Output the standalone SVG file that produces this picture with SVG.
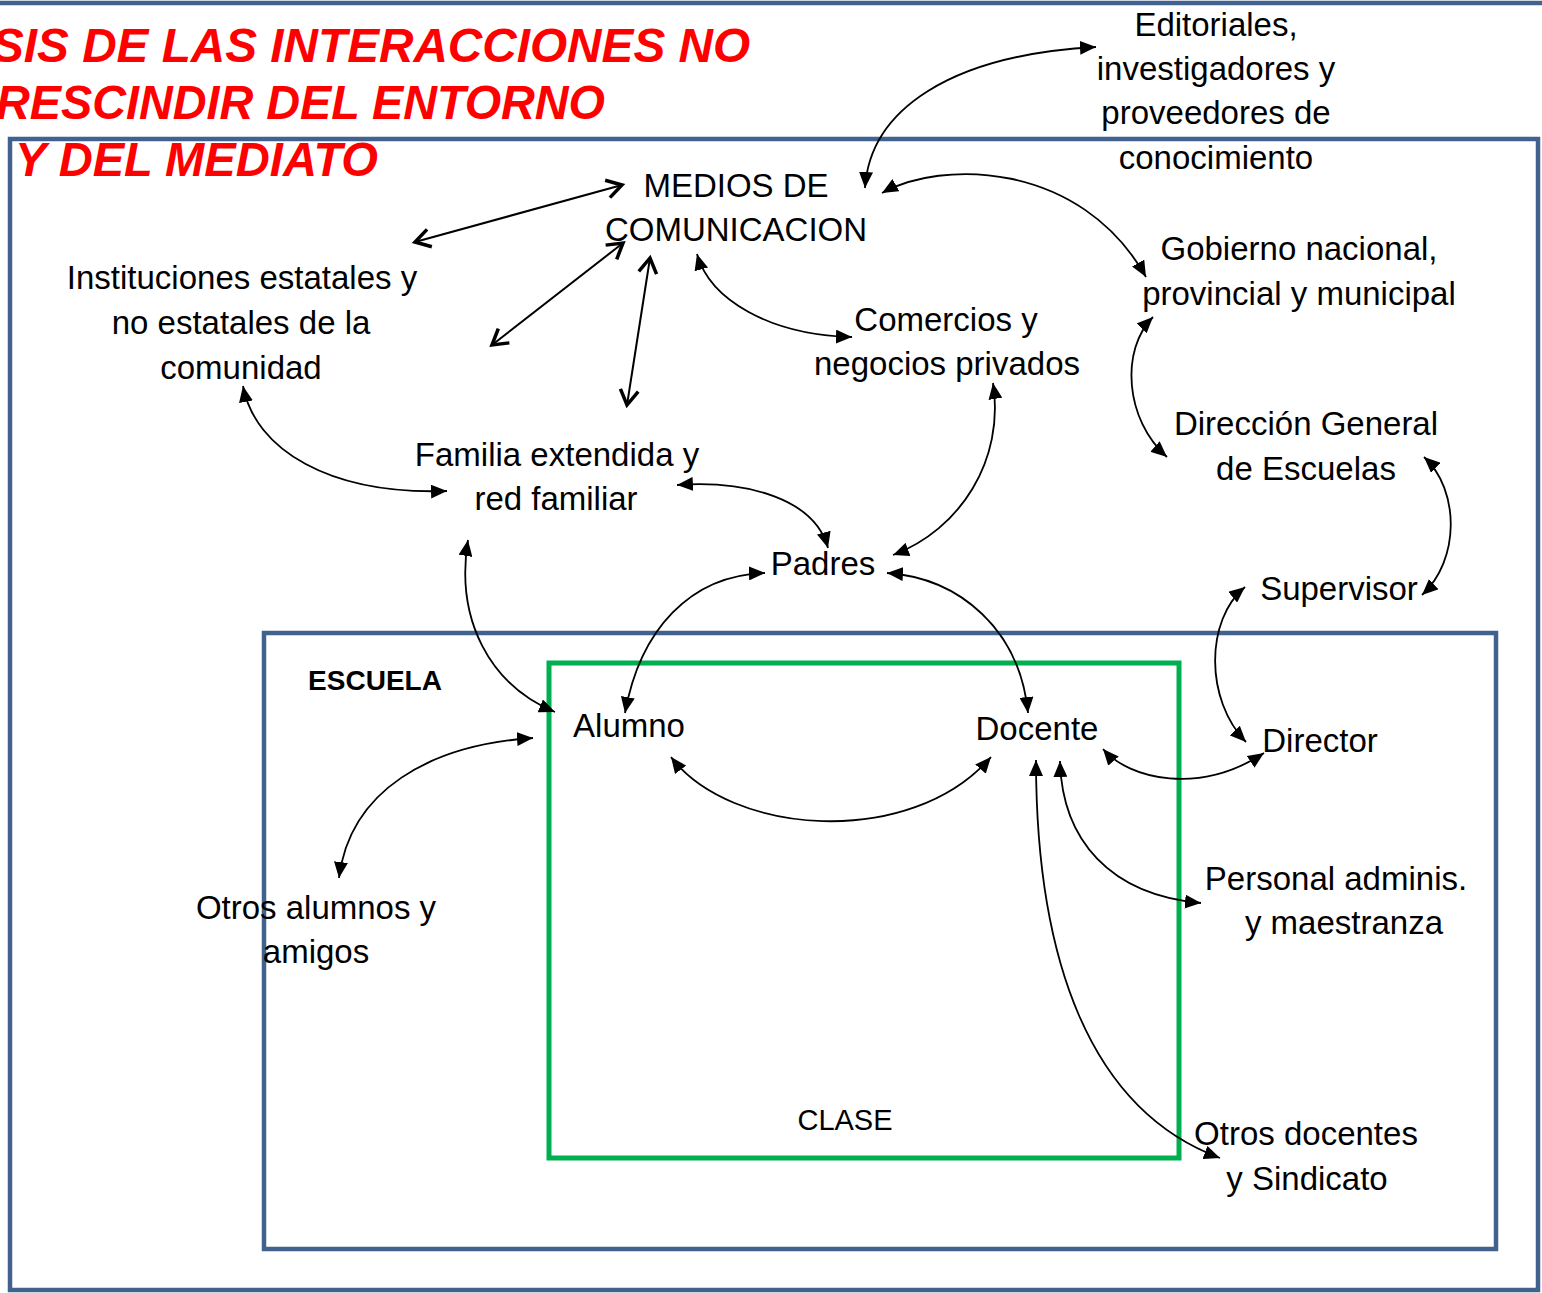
<svg xmlns="http://www.w3.org/2000/svg" width="1542" height="1293" viewBox="0 0 1542 1293">
<style>
.t{font-family:"Liberation Sans",Arial,sans-serif;font-size:33px;fill:#000;text-anchor:middle}
.ttl{font-family:"Liberation Sans",Arial,sans-serif;font-size:48px;font-weight:bold;font-style:italic;fill:#FF0000}
.frame{fill:none;stroke:#41628F;stroke-width:4.5}
.clase{fill:none;stroke:#00B050;stroke-width:5}
.c{fill:none;stroke:#000;stroke-width:1.8;marker-start:url(#af);marker-end:url(#af)}
.o{fill:none;stroke:#000;stroke-width:2;marker-start:url(#ao);marker-end:url(#ao)}
</style>
<defs>
<marker id="af" markerUnits="userSpaceOnUse" markerWidth="18" markerHeight="14" refX="16" refY="7" orient="auto-start-reverse">
<path d="M0,0 L16,7 L0,14 z" fill="#000"/>
</marker>
<marker id="ao" markerUnits="userSpaceOnUse" markerWidth="24" markerHeight="24" refX="18" refY="11" orient="auto-start-reverse">
<path d="M3,2 L18,11 L3,20" fill="none" stroke="#000" stroke-width="3.5"/>
</marker>
</defs>
<rect width="1542" height="1293" fill="#fff"/>
<g id="frames">
<line x1="0" y1="3" x2="1542" y2="3" class="frame"/>
<rect x="10" y="139" width="1528" height="1151" class="frame"/>
<rect x="264" y="633" width="1232" height="616" class="frame"/>
<rect x="549" y="663" width="630" height="495" class="clase"/>
</g>
<g id="title">
<text class="ttl" x="-8" y="62" textLength="758" lengthAdjust="spacingAndGlyphs">SIS DE LAS INTERACCIONES NO</text>
<text class="ttl" x="-4" y="119" textLength="609" lengthAdjust="spacingAndGlyphs">RESCINDIR DEL ENTORNO</text>
<text class="ttl" x="15" y="176" textLength="363" lengthAdjust="spacingAndGlyphs">Y DEL MEDIATO</text>
</g>
<g id="connectors">
<path class="o" d="M415,242 L622,185"/>
<path class="o" d="M492,345 L623,243"/>
<path class="o" d="M650,258 L627,405"/>
<path class="c" d="M865,188 C870,110 950,55 1096,47"/>
<path class="c" d="M882,193 C940,160 1080,160 1146,277"/>
<path class="c" d="M1153,317 C1120,350 1125,420 1167,457"/>
<path class="c" d="M1424,457 C1460,490 1460,560 1422,595"/>
<path class="c" d="M1245,587 C1205,620 1205,700 1246,742"/>
<path class="c" d="M1103,749 C1130,780 1200,795 1264,753"/>
<path class="c" d="M1060,761 C1062,840 1110,895 1201,903"/>
<path class="c" d="M1036,760 C1036,960 1090,1110 1220,1158"/>
<path class="c" d="M697,254 C710,300 770,335 852,337"/>
<path class="c" d="M243,386 C255,450 330,495 447,491"/>
<path class="c" d="M677,485 C750,480 815,500 828,548"/>
<path class="c" d="M993,383 C1005,460 960,530 893,555"/>
<path class="c" d="M765,573 C690,575 640,630 625,713"/>
<path class="c" d="M887,573 C960,578 1020,630 1028,713"/>
<path class="c" d="M468,540 C455,620 490,685 555,712"/>
<path class="c" d="M671,757 C730,835 910,850 991,757"/>
<path class="c" d="M339,878 C350,790 430,745 533,738"/>
</g>
<g id="editoriales"><text class="t" x="1216" y="36">Editoriales,</text><text class="t" x="1216" y="80">investigadores y</text><text class="t" x="1216" y="124">proveedores de</text><text class="t" x="1216" y="169">conocimiento</text></g>
<g id="medios"><text class="t" x="736" y="197">MEDIOS DE</text><text class="t" x="736" y="241">COMUNICACION</text></g>
<g id="instituciones"><text class="t" x="242" y="289">Instituciones estatales y</text><text class="t" x="241" y="334">no estatales de la</text><text class="t" x="241" y="379">comunidad</text></g>
<g id="comercios"><text class="t" x="946" y="331">Comercios y</text><text class="t" x="947" y="375">negocios privados</text></g>
<g id="gobierno"><text class="t" x="1299" y="260">Gobierno nacional,</text><text class="t" x="1299" y="305">provincial y municipal</text></g>
<g id="direccion"><text class="t" x="1306" y="435">Dirección General</text><text class="t" x="1306" y="480">de Escuelas</text></g>
<g id="familia"><text class="t" x="557" y="466">Familia extendida y</text><text class="t" x="556" y="510">red familiar</text></g>
<g id="padres"><text class="t" x="823" y="575">Padres</text></g>
<g id="supervisor"><text class="t" x="1339" y="600">Supervisor</text></g>
<g id="escuela"><text class="t" x="375" y="690" style="font-weight:bold;font-size:28px">ESCUELA</text></g>
<g id="alumno"><text class="t" x="629" y="737">Alumno</text></g>
<g id="docente"><text class="t" x="1037" y="740">Docente</text></g>
<g id="director"><text class="t" x="1320" y="752">Director</text></g>
<g id="otros-alumnos"><text class="t" x="316" y="919">Otros alumnos y</text><text class="t" x="316" y="963">amigos</text></g>
<g id="personal"><text class="t" x="1336" y="890">Personal adminis.</text><text class="t" x="1344" y="934">y maestranza</text></g>
<g id="clase"><text class="t" x="845" y="1130" style="font-size:29px">CLASE</text></g>
<g id="otros-docentes"><text class="t" x="1306" y="1145">Otros docentes</text><text class="t" x="1307" y="1190">y Sindicato</text></g>
</svg>
